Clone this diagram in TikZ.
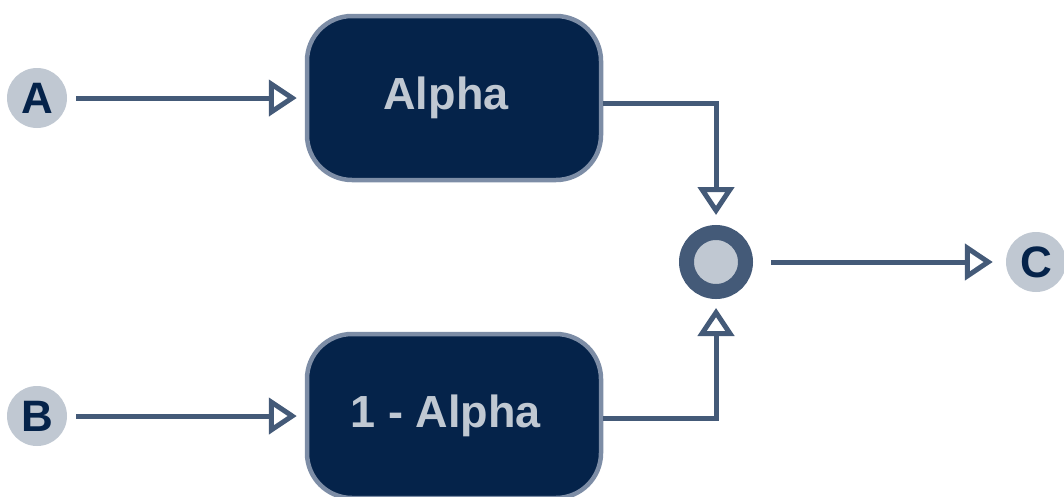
\documentclass[tikz,border=0pt]{standalone}
\usepackage{fontspec}
\setmainfont{Liberation Sans}
\usetikzlibrary{arrows.meta}
\definecolor{navy}{HTML}{05234A}
\definecolor{edgec}{HTML}{7D8DA6}
\definecolor{conn}{HTML}{445A78}
\definecolor{pale}{HTML}{C0C8D2}
\tikzset{
  blockbox/.style={draw=edgec, line width=4.5pt, fill=navy, rounded corners=45pt,
    minimum width=294pt, minimum height=164pt, inner sep=0pt,
    text=pale, font=\fontsize{45}{52}\selectfont\bfseries},
  term/.style={circle, fill=pale, minimum size=60pt, inner sep=0pt,
    text=navy, font=\fontsize{44}{50}\selectfont\bfseries},
  mixer/.style={circle, fill=pale, draw=conn, line width=15pt, minimum size=59pt, inner sep=0pt},
  conn/.style={draw=conn, line width=5pt, -{Triangle[open, length=28pt, width=36pt]}}
}
\begin{document}
\begin{tikzpicture}[x=1pt,y=-1pt]
\useasboundingbox (0,0) rectangle (1064,496);
\node[term] (A) at (37,98) {A};
\node[term] (B) at (37,416) {B};
\node[term] (C) at (1036,262) {C};
\node[blockbox] (alpha) at (454,98) {\hspace*{-16pt}Alpha};
\node[blockbox] (beta) at (454,416) {\hspace*{-16pt}1 - Alpha};
\node[mixer] (mix) at (716,262) {};
\draw[conn, shorten <=9pt, shorten >=8pt] (A) -- (alpha);
\draw[conn, shorten <=9pt, shorten >=8pt] (B) -- (beta);
\draw[conn, shorten >=10pt] ([yshift=-5pt]alpha.east) -| (mix.north);
\draw[conn, shorten >=9pt] ([yshift=-2pt]beta.east) -| (mix.south);
\draw[conn, shorten <=18pt, shorten >=13pt] (mix) -- (C);
\end{tikzpicture}
\end{document}
